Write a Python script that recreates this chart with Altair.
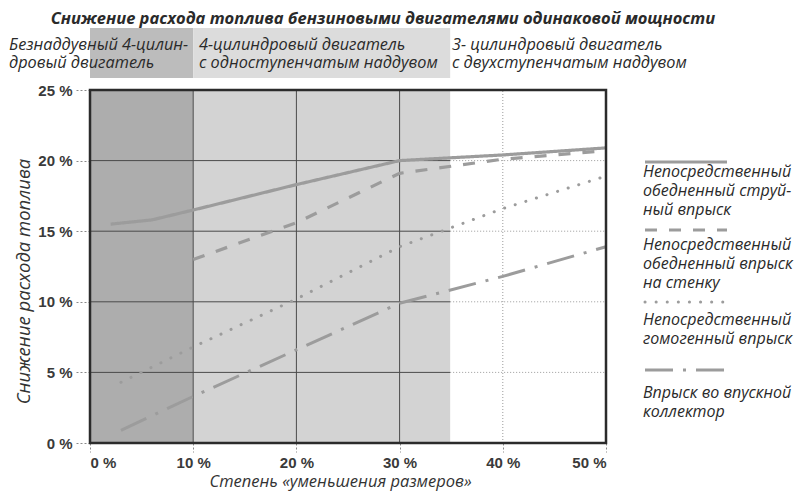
import altair as alt
import pandas as pd

# ---------------- data ----------------
title_text = "Снижение расхода топлива бензиновыми двигателями одинаковой мощности"
band_labels = [
    "Безнаддувный 4-цилин-\nдровый двигатель",
    "4-цилиндровый двигатель\nс одноступенчатым наддувом",
    "3- цилиндровый двигатель\nс двухступенчатым наддувом",
]
band_start = [0, 10]
band_end = [10, 34.9]

series_names = [
    "Непосредственный\nобедненный струй-\nный впрыск",
    "Непосредственный\nобедненный впрыск\nна стенку",
    "Непосредственный\nгомогенный впрыск",
    "Впрыск во впускной\nколлектор",
]
solid_x = [2, 6, 10, 20, 30, 40, 50]
solid_y = [15.5, 15.8, 16.5, 18.3, 20.0, 20.4, 20.9]
dashed_x = [10, 20, 30, 34, 40, 50]
dashed_y = [13.0, 15.6, 19.1, 19.5, 20.1, 20.7]
dotted_x = [3, 10, 20, 30, 40, 50]
dotted_y = [4.3, 6.8, 10.2, 13.9, 16.6, 18.9]
dashdot_x = [3, 10, 20, 30, 40, 50]
dashdot_y = [0.9, 3.3, 6.6, 9.9, 11.8, 13.9]

x_ticks = [0, 10, 20, 30, 40, 50]
y_ticks = [0, 5, 10, 15, 20, 25]
hgrid = [5, 10, 15, 20]
vgrid_solid = [10, 20, 30]
vgrid_dotted = [40]

# ---------------- styling ----------------
W, H = 516, 353
FONT = "Open Sans"
LINE_COL = "#9c9c9c"

xs = alt.Scale(domain=[0, 50], nice=False, zero=False)
ys = alt.Scale(domain=[0, 25], nice=False, zero=False)

xaxis = alt.Axis(values=x_ticks, labelExpr="datum.value + ' %'",
                 title="Степень «уменьшения размеров»", grid=False, domain=False,
                 ticks=True, tickSize=9, tickColor="#8a8a8a", tickDash=[2, 2],
                 labelFont="Liberation Sans", labelFontWeight="bold", labelFontSize=15,
                 labelColor="#3a3a3a", labelPadding=3,
                 titleFont=FONT, titleFontStyle="italic", titleFontWeight="normal",
                 titleFontSize=16.5, titleColor="#333", titlePadding=3, titleX=250)
yaxis = alt.Axis(values=y_ticks, labelExpr="datum.value + ' %'",
                 title="Снижение расхода топлива", grid=False, domain=False,
                 ticks=True, tickSize=15, tickColor="#8a8a8a", tickDash=[2, 2],
                 labelFont="Liberation Sans", labelFontWeight="bold", labelFontSize=15,
                 labelColor="#3a3a3a", labelPadding=3,
                 titleFont=FONT, titleFontStyle="italic", titleFontWeight="normal",
                 titleFontSize=18.5, titleColor="#333", titlePadding=4, titleY=191)


def X(f):
    return alt.X(f, type="quantitative", scale=xs, axis=xaxis)


def Y(f):
    return alt.Y(f, type="quantitative", scale=ys, axis=yaxis)


dummy = pd.DataFrame({"k": [0]})

bands = pd.DataFrame({"start": band_start, "end": band_end,
                      "c": ["#adadad", "#d3d3d3"], "hc": ["#bcbcbc", "#dcdcdc"]})

# plot background bands
bg = alt.Chart(bands).mark_rect().encode(
    x=X("start"), x2="end", y=Y("y0"), y2="y1",
    fill=alt.Fill("c:N", scale=None),
).transform_calculate(y0="0", y1="25")

# header bands above the plot
hb = alt.Chart(bands).mark_rect().encode(
    x=X("start"), x2="end",
    y=alt.value(-62), y2=alt.value(-12),
    fill=alt.Fill("hc:N", scale=None),
)

# gridlines
hg = pd.DataFrame({"v": hgrid})
hgrid_solid = alt.Chart(hg).mark_rule(color="#4a4a4a", strokeWidth=1).encode(
    y=Y("v"), x=X("a"), x2="b"
).transform_calculate(a="0", b="34.9")
hgrid_dot = alt.Chart(hg).mark_rule(color="#9a9a9a", strokeWidth=1, strokeDash=[1, 2]).encode(
    y=Y("v"), x=X("a"), x2="b"
).transform_calculate(a="34.9", b="50")
vgs = alt.Chart(pd.DataFrame({"v": vgrid_solid})).mark_rule(color="#4a4a4a", strokeWidth=1).encode(
    x=X("v"), y=Y("a"), y2="b"
).transform_calculate(a="0", b="25")
vgd = alt.Chart(pd.DataFrame({"v": vgrid_dotted})).mark_rule(color="#9a9a9a", strokeWidth=1, strokeDash=[1, 2]).encode(
    x=X("v"), y=Y("a"), y2="b"
).transform_calculate(a="0", b="25")

# data lines
styles = [
    dict(strokeDash=[1, 0], strokeWidth=3.2, strokeCap="butt"),
    dict(strokeDash=[12, 12], strokeWidth=3.2, strokeCap="butt"),
    dict(strokeDash=[0.1, 11], strokeWidth=3.0, strokeCap="round"),
    dict(strokeDash=[28, 10, 3, 10], strokeWidth=3.0, strokeCap="butt"),
]
series_xy = [(solid_x, solid_y), (dashed_x, dashed_y), (dotted_x, dotted_y), (dashdot_x, dashdot_y)]
line_layers = []
for (sx, sy), st in zip(series_xy, styles):
    d = pd.DataFrame({"x": sx, "y": sy})
    line_layers.append(
        alt.Chart(d).mark_line(color=LINE_COL, **st).encode(x=X("x"), y=Y("y"))
    )

# plot frame
frame = alt.Chart(dummy).mark_rect(fillOpacity=0, stroke="#2b2b2b", strokeWidth=2.5).encode(
    x=X("a"), x2="b", y=Y("c"), y2="d",
).transform_calculate(a="0", b="50", c="0", d="25")

# title and header labels
title = alt.Chart(dummy).mark_text(
    text=title_text, font=FONT, fontSize=16.5, fontWeight="bold", fontStyle="italic",
    color="#2a2a2a", align="center", baseline="middle"
).encode(x=alt.value(293), y=alt.value(-71))

header_pos = [-81, 109, 362]
headers = [
    alt.Chart(dummy).mark_text(
        text=lab, lineBreak="\n", lineHeight=18, font=FONT, fontSize=16.3, fontStyle="italic",
        color="#2a2a2a", align="left", baseline="alphabetic"
    ).encode(x=alt.value(px), y=alt.value(-40))
    for lab, px in zip(band_labels, header_pos)
]

# legend (manual)
leg_sym_y = [72, 140, 212, 280]
leg_txt_y = [87, 160, 235, 308]
legend = []
for name, st, sy, ty in zip(series_names, styles, leg_sym_y, leg_txt_y):
    legend.append(
        alt.Chart(dummy).mark_rule(color=LINE_COL, **st).encode(
            x=alt.value(555), x2=alt.value(637), y=alt.value(sy)
        )
    )
    legend.append(
        alt.Chart(dummy).mark_text(
            text=name, lineBreak="\n", lineHeight=19, font=FONT, fontSize=16, fontStyle="italic",
            color="#2a2a2a", align="left", baseline="alphabetic"
        ).encode(x=alt.value(553), y=alt.value(ty))
    )

chart = alt.layer(
    bg, hb, hgrid_solid, hgrid_dot, vgs, vgd, *line_layers, frame, title, *headers, *legend
).properties(
    width=W, height=H,
    autosize="none",
    padding={"left": 82, "top": 82, "right": 192, "bottom": 48},
).configure_view(stroke=None).configure(background="white")

chart.save("out.html", embed_options={"renderer": "svg", "actions": False})
